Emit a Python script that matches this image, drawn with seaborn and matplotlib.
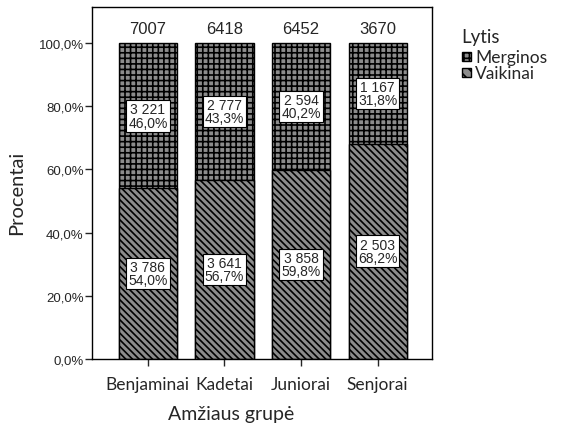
import numpy as np
import pandas as pd
import seaborn as sns
import matplotlib.pyplot as plt
from matplotlib.patches import Rectangle

# duomenys
groups = ["Benjaminai", "Kadetai", "Juniorai", "Senjorai"]
totals = [7007, 6418, 6452, 3670]
vaikinai_n = [3786, 3641, 3858, 2503]
merginos_n = [3221, 2777, 2594, 1167]
vaikinai_pct = [54.0, 56.7, 59.8, 68.2]
merginos_pct = [46.0, 43.3, 40.2, 31.8]

sns.set_style("white")
plt.rcParams["font.family"] = ["Lato", "DejaVu Sans"]
plt.rcParams["hatch.linewidth"] = 1.2
plt.rcParams["hatch.color"] = "black"

fig = plt.figure(figsize=(5.64, 4.31), dpi=100)
ax = fig.add_axes([0.163, 0.165, 0.603, 0.816])

df = pd.DataFrame({"grupe": groups,
                   "top": np.array(vaikinai_pct) + np.array(merginos_pct),
                   "vaik": vaikinai_pct})

sns.barplot(data=df, x="grupe", y="top", color="#8c8c8c", width=0.76,
            edgecolor="black", linewidth=1, ax=ax, saturation=1)
n = len(ax.patches)
for p in ax.patches[:n]:
    p.set_hatch("+++")
sns.barplot(data=df, x="grupe", y="vaik", color="#8c8c8c", width=0.76,
            edgecolor="black", linewidth=1, ax=ax, saturation=1)
for p in ax.patches[n:]:
    p.set_hatch("\\\\\\\\\\")

box = dict(boxstyle="square,pad=0.15", fc="white", ec="black", lw=0.8)
arial = ["Liberation Sans", "DejaVu Sans"]
for i in range(len(groups)):
    v = vaikinai_pct[i]
    m = merginos_pct[i]
    ax.text(i, v / 2, f"{vaikinai_n[i]:,}".replace(",", " ") + "\n" + f"{v:.1f}%".replace(".", ","),
            ha="center", va="center", fontsize=10, family=arial, bbox=box, linespacing=0.95)
    ax.text(i, v + m / 2, f"{merginos_n[i]:,}".replace(",", " ") + "\n" + f"{m:.1f}%".replace(".", ","),
            ha="center", va="center", fontsize=10, family=arial, bbox=box, linespacing=0.95)
    ax.text(i, 104.8, str(totals[i]), ha="center", va="center", fontsize=12, family=arial)

ax.set_xlim(-0.73, 3.71)
ax.set_ylim(0, 111.4)
yt = [0, 20, 40, 60, 80, 100]
ax.set_yticks(yt)
ax.set_yticklabels([f"{t:.1f}%".replace(".", ",") for t in yt], family=arial, fontsize=9.5)
ax.tick_params(axis="x", labelsize=12.5, length=5, width=1, direction="out", bottom=True, pad=7)
ax.tick_params(axis="y", length=5, width=1, direction="out", left=True, pad=1)
for s in ax.spines.values():
    s.set_color("black")
    s.set_linewidth(1)
ax.set_xlabel("Amžiaus grupė", fontsize=14)
ax.xaxis.set_label_coords(0.41, -0.156)
ax.set_ylabel("Procentai", fontsize=14.5)
ax.yaxis.set_label_coords(-0.22, 0.474)
ax.xaxis.label.set_va("center")
ax.yaxis.label.set_va("center")

# legenda
fig.text(0.818, 0.912, "Lytis", fontsize=13.5, va="center", ha="left")
leg_items = [("Merginos", "+++"), ("Vaikinai", "\\\\\\")]
for k, (lab, h) in enumerate(leg_items):
    y = 0.866 - k * 0.037
    fig.patches.append(Rectangle((0.819, y - 0.01), 0.016, 0.02, transform=fig.transFigure,
                                 fc="#8c8c8c", ec="black", lw=1, hatch=h))
    fig.text(0.843, y, lab, fontsize=12.5, va="center", ha="left")

fig.savefig("out.png", dpi=100)
